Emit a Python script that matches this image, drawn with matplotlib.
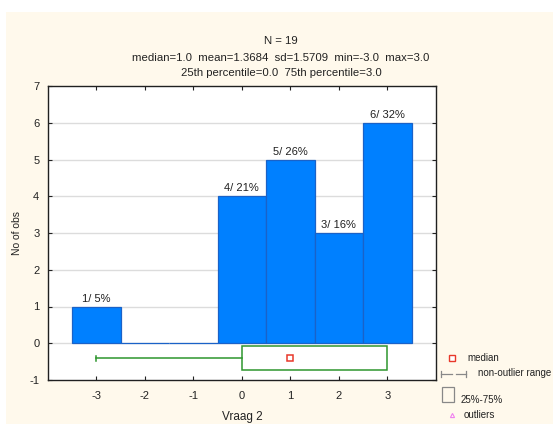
import matplotlib
matplotlib.use("Agg")
import matplotlib.pyplot as plt
from matplotlib.patches import Rectangle
from matplotlib.lines import Line2D

plt.rcParams['font.family'] = ['Liberation Sans', 'DejaVu Sans']
plt.rcParams['axes.unicode_minus'] = False

# Histogram data for "Vraag 2"
categories = [-3, -2, -1, 0, 1, 2, 3]
counts = [1, 0, 0, 4, 5, 3, 6]
bar_labels = ["1/ 5%", "", "", "4/ 21%", "5/ 26%", "3/ 16%", "6/ 32%"]

# Box summary
q25, median, q75 = 0.0, 1.0, 3.0
whisker_lo, whisker_hi = -3.0, 3.0

title_lines = [
    "N = 19",
    "median=1.0  mean=1.3684  sd=1.5709  min=-3.0  max=3.0",
    "25th percentile=0.0  75th percentile=3.0",
]
xticks = [-3, -2, -1, 0, 1, 2, 3]
yticks = [-1, 0, 1, 2, 3, 4, 5, 6, 7]

W, H = 553, 424
fig = plt.figure(figsize=(W / 100, H / 100), dpi=100, facecolor='white')

def fx(px):
    return px / W

def fy(py):
    return 1 - py / H

cream = '#FFF9EC'
fig.add_artist(Rectangle((fx(6), 0), 1 - fx(6), fy(12), transform=fig.transFigure,
                         facecolor=cream, edgecolor='none', zorder=0))

ax_left, ax_right = 47.7, 436
ax = fig.add_axes([fx(ax_left), fy(380), fx(ax_right) - fx(ax_left), fy(86) - fy(380)])
ax.set_facecolor('white')
ax.set_xlim(-4, 4)
ax.set_ylim(-1, 7)

for y in yticks[1:-1]:
    ax.axhline(y, color='#dcdcdc', lw=1, zorder=1)

bars = ax.bar(categories, counts, width=1.0, color='#0080FF', edgecolor='#1a62c8',
              linewidth=0.9, zorder=2)
for x, c, lab in zip(categories, counts, bar_labels):
    if lab:
        ax.annotate(lab, (x, c), xytext=(0, 2), textcoords='offset points',
                    ha='center', va='bottom', fontsize=8, color='#202020', zorder=4)

# Box-and-whisker row below zero
green = '#2e962e'
box_y0, box_y1 = -0.74, -0.08
mid_y = (box_y0 + box_y1) / 2
ax.add_patch(Rectangle((q25, box_y0), q75 - q25, box_y1 - box_y0, facecolor='white',
                       edgecolor=green, lw=1.1, zorder=3))
ax.plot([whisker_lo, q25], [mid_y, mid_y], color=green, lw=1.1, zorder=3)
ax.plot([whisker_lo, whisker_lo], [mid_y - 0.06, mid_y + 0.06], color=green, lw=1.1, zorder=3)
ax.plot([median], [mid_y], marker='s', ms=5, mfc='white', mec='#e8382a', mew=1.1,
        linestyle='none', zorder=4)

ax.set_xticks(xticks)
ax.set_yticks(yticks)
ax.tick_params(direction='in', length=3, width=0.8, top=True, right=True,
               labelsize=8, colors='#222222', pad=6)
ax.tick_params(axis='x', pad=8)
for s in ax.spines.values():
    s.set_color('#202020')
    s.set_linewidth(1.0)

ax.set_xlabel('Vraag 2', fontsize=8.5, color='#222222', labelpad=7)
ax.set_ylabel('No of obs', fontsize=7.5, color='#222222')
ax.yaxis.set_label_coords((22 - ax_left) / (ax_right - ax_left), 0.5)

# Header statistics
for text, py in zip(title_lines, [41, 58, 73]):
    fig.text(fx(281), fy(py), text, ha='center', va='center', fontsize=8.2, color='#222222')

# Legend drawn in figure pixel coordinates
legend_gray = '#888888'
fig.add_artist(Line2D([fx(452)], [fy(358)], marker='s', ms=4.5, mfc='white', mec='#e8382a',
                      mew=1.0, linestyle='none', transform=fig.transFigure))
fig.text(fx(467), fy(358), 'median', ha='left', va='center', fontsize=7, color='#222222')

fig.add_artist(Line2D([fx(441), fx(452)], [fy(374), fy(374)], color=legend_gray, lw=0.9,
                      transform=fig.transFigure))
fig.add_artist(Line2D([fx(456), fx(466)], [fy(374), fy(374)], color=legend_gray, lw=0.9,
                      transform=fig.transFigure))
for px in (441, 466):
    fig.add_artist(Line2D([fx(px), fx(px)], [fy(371), fy(377)], color=legend_gray, lw=0.9,
                          transform=fig.transFigure))
fig.text(fx(478), fy(373), 'non-outlier range', ha='left', va='center', fontsize=7,
         color='#222222')

fig.add_artist(Rectangle((fx(442), fy(402)), fx(454) - fx(442), fy(387) - fy(402),
                         transform=fig.transFigure, facecolor='none', edgecolor=legend_gray,
                         lw=0.9))
fig.text(fx(461), fy(400), '25%-75%', ha='left', va='center', fontsize=7, color='#222222')

fig.add_artist(Line2D([fx(452)], [fy(415)], marker='^', ms=3, mfc='none', mec='#f080f0',
                      mew=0.8, linestyle='none', transform=fig.transFigure))
fig.text(fx(464), fy(415), 'outliers', ha='left', va='center', fontsize=7, color='#222222')

fig.savefig('out.png', dpi=100, facecolor='white')
